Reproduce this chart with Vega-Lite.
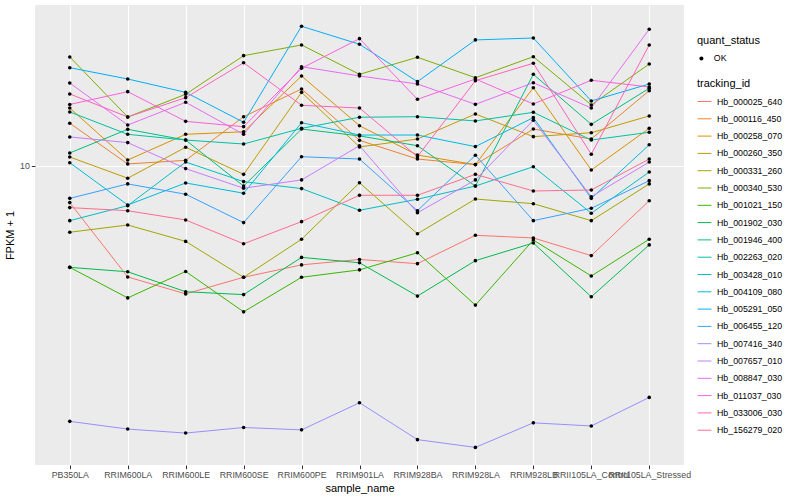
{
  "$schema": "https://vega.github.io/schema/vega-lite/v6.json",
  "width": 649,
  "height": 460,
  "autosize": {"type": "none"},
  "padding": {"left": 35, "top": 5, "right": 116, "bottom": 35},
  "background": "white",
  "config": {
    "view": {"stroke": null, "fill": "#EBEBEB"},
    "font": "Liberation Sans",
    "legend": {"padding": 0}
  },
  "datasets": {
    "expr": [
      {"sample":"PB350LA","id":"Hb_000025_640","fpkm":8.10,"status":"OK"},
      {"sample":"RRIM600LA","id":"Hb_000025_640","fpkm":5.28,"status":"OK"},
      {"sample":"RRIM600LE","id":"Hb_000025_640","fpkm":4.79,"status":"OK"},
      {"sample":"RRIM600SE","id":"Hb_000025_640","fpkm":5.27,"status":"OK"},
      {"sample":"RRIM600PE","id":"Hb_000025_640","fpkm":5.66,"status":"OK"},
      {"sample":"RRIM901LA","id":"Hb_000025_640","fpkm":5.84,"status":"OK"},
      {"sample":"RRIM928BA","id":"Hb_000025_640","fpkm":5.70,"status":"OK"},
      {"sample":"RRIM928LA","id":"Hb_000025_640","fpkm":6.71,"status":"OK"},
      {"sample":"RRIM928LB","id":"Hb_000025_640","fpkm":6.61,"status":"OK"},
      {"sample":"RRII105LA_Control","id":"Hb_000025_640","fpkm":5.97,"status":"OK"},
      {"sample":"RRII105LA_Stressed","id":"Hb_000025_640","fpkm":8.19,"status":"OK"},

      {"sample":"PB350LA","id":"Hb_000116_450","fpkm":12.79,"status":"OK"},
      {"sample":"RRIM600LA","id":"Hb_000116_450","fpkm":10.12,"status":"OK"},
      {"sample":"RRIM600LE","id":"Hb_000116_450","fpkm":10.33,"status":"OK"},
      {"sample":"RRIM600SE","id":"Hb_000116_450","fpkm":13.28,"status":"OK"},
      {"sample":"RRIM600PE","id":"Hb_000116_450","fpkm":15.58,"status":"OK"},
      {"sample":"RRIM901LA","id":"Hb_000116_450","fpkm":11.59,"status":"OK"},
      {"sample":"RRIM928BA","id":"Hb_000116_450","fpkm":10.41,"status":"OK"},
      {"sample":"RRIM928LA","id":"Hb_000116_450","fpkm":10.08,"status":"OK"},
      {"sample":"RRIM928LB","id":"Hb_000116_450","fpkm":12.37,"status":"OK"},
      {"sample":"RRII105LA_Control","id":"Hb_000116_450","fpkm":11.68,"status":"OK"},
      {"sample":"RRII105LA_Stressed","id":"Hb_000116_450","fpkm":15.43,"status":"OK"},

      {"sample":"PB350LA","id":"Hb_000258_070","fpkm":13.96,"status":"OK"},
      {"sample":"RRIM600LA","id":"Hb_000258_070","fpkm":10.35,"status":"OK"},
      {"sample":"RRIM600LE","id":"Hb_000258_070","fpkm":12.00,"status":"OK"},
      {"sample":"RRIM600SE","id":"Hb_000258_070","fpkm":12.18,"status":"OK"},
      {"sample":"RRIM600PE","id":"Hb_000258_070","fpkm":16.79,"status":"OK"},
      {"sample":"RRIM901LA","id":"Hb_000258_070","fpkm":12.61,"status":"OK"},
      {"sample":"RRIM928BA","id":"Hb_000258_070","fpkm":10.65,"status":"OK"},
      {"sample":"RRIM928LA","id":"Hb_000258_070","fpkm":10.08,"status":"OK"},
      {"sample":"RRIM928LB","id":"Hb_000258_070","fpkm":15.69,"status":"OK"},
      {"sample":"RRII105LA_Control","id":"Hb_000258_070","fpkm":9.77,"status":"OK"},
      {"sample":"RRII105LA_Stressed","id":"Hb_000258_070","fpkm":12.42,"status":"OK"},

      {"sample":"PB350LA","id":"Hb_000260_350","fpkm":10.53,"status":"OK"},
      {"sample":"RRIM600LA","id":"Hb_000260_350","fpkm":9.32,"status":"OK"},
      {"sample":"RRIM600LE","id":"Hb_000260_350","fpkm":11.14,"status":"OK"},
      {"sample":"RRIM600SE","id":"Hb_000260_350","fpkm":9.53,"status":"OK"},
      {"sample":"RRIM600PE","id":"Hb_000260_350","fpkm":15.28,"status":"OK"},
      {"sample":"RRIM901LA","id":"Hb_000260_350","fpkm":11.16,"status":"OK"},
      {"sample":"RRIM928BA","id":"Hb_000260_350","fpkm":11.68,"status":"OK"},
      {"sample":"RRIM928LA","id":"Hb_000260_350","fpkm":13.49,"status":"OK"},
      {"sample":"RRIM928LB","id":"Hb_000260_350","fpkm":11.84,"status":"OK"},
      {"sample":"RRII105LA_Control","id":"Hb_000260_350","fpkm":12.11,"status":"OK"},
      {"sample":"RRII105LA_Stressed","id":"Hb_000260_350","fpkm":13.34,"status":"OK"},

      {"sample":"PB350LA","id":"Hb_000331_260","fpkm":6.83,"status":"OK"},
      {"sample":"RRIM600LA","id":"Hb_000331_260","fpkm":7.12,"status":"OK"},
      {"sample":"RRIM600LE","id":"Hb_000331_260","fpkm":6.48,"status":"OK"},
      {"sample":"RRIM600SE","id":"Hb_000331_260","fpkm":5.27,"status":"OK"},
      {"sample":"RRIM600PE","id":"Hb_000331_260","fpkm":6.56,"status":"OK"},
      {"sample":"RRIM901LA","id":"Hb_000331_260","fpkm":9.08,"status":"OK"},
      {"sample":"RRIM928BA","id":"Hb_000331_260","fpkm":6.77,"status":"OK"},
      {"sample":"RRIM928LA","id":"Hb_000331_260","fpkm":8.27,"status":"OK"},
      {"sample":"RRIM928LB","id":"Hb_000331_260","fpkm":8.05,"status":"OK"},
      {"sample":"RRII105LA_Control","id":"Hb_000331_260","fpkm":7.30,"status":"OK"},
      {"sample":"RRII105LA_Stressed","id":"Hb_000331_260","fpkm":9.02,"status":"OK"},

      {"sample":"PB350LA","id":"Hb_000340_530","fpkm":18.73,"status":"OK"},
      {"sample":"RRIM600LA","id":"Hb_000340_530","fpkm":13.26,"status":"OK"},
      {"sample":"RRIM600LE","id":"Hb_000340_530","fpkm":15.11,"status":"OK"},
      {"sample":"RRIM600SE","id":"Hb_000340_530","fpkm":18.87,"status":"OK"},
      {"sample":"RRIM600PE","id":"Hb_000340_530","fpkm":20.07,"status":"OK"},
      {"sample":"RRIM901LA","id":"Hb_000340_530","fpkm":16.95,"status":"OK"},
      {"sample":"RRIM928BA","id":"Hb_000340_530","fpkm":18.70,"status":"OK"},
      {"sample":"RRIM928LA","id":"Hb_000340_530","fpkm":16.62,"status":"OK"},
      {"sample":"RRIM928LB","id":"Hb_000340_530","fpkm":18.76,"status":"OK"},
      {"sample":"RRII105LA_Control","id":"Hb_000340_530","fpkm":14.21,"status":"OK"},
      {"sample":"RRII105LA_Stressed","id":"Hb_000340_530","fpkm":17.99,"status":"OK"},

      {"sample":"PB350LA","id":"Hb_001021_150","fpkm":5.58,"status":"OK"},
      {"sample":"RRIM600LA","id":"Hb_001021_150","fpkm":4.68,"status":"OK"},
      {"sample":"RRIM600LE","id":"Hb_001021_150","fpkm":5.45,"status":"OK"},
      {"sample":"RRIM600SE","id":"Hb_001021_150","fpkm":4.32,"status":"OK"},
      {"sample":"RRIM600PE","id":"Hb_001021_150","fpkm":5.27,"status":"OK"},
      {"sample":"RRIM901LA","id":"Hb_001021_150","fpkm":5.50,"status":"OK"},
      {"sample":"RRIM928BA","id":"Hb_001021_150","fpkm":6.07,"status":"OK"},
      {"sample":"RRIM928LA","id":"Hb_001021_150","fpkm":4.49,"status":"OK"},
      {"sample":"RRIM928LB","id":"Hb_001021_150","fpkm":6.53,"status":"OK"},
      {"sample":"RRII105LA_Control","id":"Hb_001021_150","fpkm":5.31,"status":"OK"},
      {"sample":"RRII105LA_Stressed","id":"Hb_001021_150","fpkm":6.56,"status":"OK"},

      {"sample":"PB350LA","id":"Hb_001902_030","fpkm":5.58,"status":"OK"},
      {"sample":"RRIM600LA","id":"Hb_001902_030","fpkm":5.44,"status":"OK"},
      {"sample":"RRIM600LE","id":"Hb_001902_030","fpkm":4.85,"status":"OK"},
      {"sample":"RRIM600SE","id":"Hb_001902_030","fpkm":4.77,"status":"OK"},
      {"sample":"RRIM600PE","id":"Hb_001902_030","fpkm":5.91,"status":"OK"},
      {"sample":"RRIM901LA","id":"Hb_001902_030","fpkm":5.73,"status":"OK"},
      {"sample":"RRIM928BA","id":"Hb_001902_030","fpkm":4.73,"status":"OK"},
      {"sample":"RRIM928LA","id":"Hb_001902_030","fpkm":5.80,"status":"OK"},
      {"sample":"RRIM928LB","id":"Hb_001902_030","fpkm":6.42,"status":"OK"},
      {"sample":"RRII105LA_Control","id":"Hb_001902_030","fpkm":4.71,"status":"OK"},
      {"sample":"RRII105LA_Stressed","id":"Hb_001902_030","fpkm":6.35,"status":"OK"},

      {"sample":"PB350LA","id":"Hb_001946_400","fpkm":10.78,"status":"OK"},
      {"sample":"RRIM600LA","id":"Hb_001946_400","fpkm":12.35,"status":"OK"},
      {"sample":"RRIM600LE","id":"Hb_001946_400","fpkm":11.61,"status":"OK"},
      {"sample":"RRIM600SE","id":"Hb_001946_400","fpkm":8.91,"status":"OK"},
      {"sample":"RRIM600PE","id":"Hb_001946_400","fpkm":12.37,"status":"OK"},
      {"sample":"RRIM901LA","id":"Hb_001946_400","fpkm":11.89,"status":"OK"},
      {"sample":"RRIM928BA","id":"Hb_001946_400","fpkm":11.24,"status":"OK"},
      {"sample":"RRIM928LA","id":"Hb_001946_400","fpkm":8.91,"status":"OK"},
      {"sample":"RRIM928LB","id":"Hb_001946_400","fpkm":16.95,"status":"OK"},
      {"sample":"RRII105LA_Control","id":"Hb_001946_400","fpkm":12.71,"status":"OK"},
      {"sample":"RRII105LA_Stressed","id":"Hb_001946_400","fpkm":15.64,"status":"OK"},

      {"sample":"PB350LA","id":"Hb_002263_020","fpkm":13.65,"status":"OK"},
      {"sample":"RRIM600LA","id":"Hb_002263_020","fpkm":12.00,"status":"OK"},
      {"sample":"RRIM600LE","id":"Hb_002263_020","fpkm":11.61,"status":"OK"},
      {"sample":"RRIM600SE","id":"Hb_002263_020","fpkm":11.35,"status":"OK"},
      {"sample":"RRIM600PE","id":"Hb_002263_020","fpkm":12.42,"status":"OK"},
      {"sample":"RRIM901LA","id":"Hb_002263_020","fpkm":13.24,"status":"OK"},
      {"sample":"RRIM928BA","id":"Hb_002263_020","fpkm":13.28,"status":"OK"},
      {"sample":"RRIM928LA","id":"Hb_002263_020","fpkm":12.96,"status":"OK"},
      {"sample":"RRIM928LB","id":"Hb_002263_020","fpkm":13.62,"status":"OK"},
      {"sample":"RRII105LA_Control","id":"Hb_002263_020","fpkm":11.61,"status":"OK"},
      {"sample":"RRII105LA_Stressed","id":"Hb_002263_020","fpkm":12.14,"status":"OK"},

      {"sample":"PB350LA","id":"Hb_003428_010","fpkm":7.30,"status":"OK"},
      {"sample":"RRIM600LA","id":"Hb_003428_010","fpkm":7.96,"status":"OK"},
      {"sample":"RRIM600LE","id":"Hb_003428_010","fpkm":10.23,"status":"OK"},
      {"sample":"RRIM600SE","id":"Hb_003428_010","fpkm":9.14,"status":"OK"},
      {"sample":"RRIM600PE","id":"Hb_003428_010","fpkm":8.78,"status":"OK"},
      {"sample":"RRIM901LA","id":"Hb_003428_010","fpkm":7.75,"status":"OK"},
      {"sample":"RRIM928BA","id":"Hb_003428_010","fpkm":8.26,"status":"OK"},
      {"sample":"RRIM928LA","id":"Hb_003428_010","fpkm":8.91,"status":"OK"},
      {"sample":"RRIM928LB","id":"Hb_003428_010","fpkm":9.96,"status":"OK"},
      {"sample":"RRII105LA_Control","id":"Hb_003428_010","fpkm":7.62,"status":"OK"},
      {"sample":"RRII105LA_Stressed","id":"Hb_003428_010","fpkm":9.66,"status":"OK"},

      {"sample":"PB350LA","id":"Hb_004109_080","fpkm":10.19,"status":"OK"},
      {"sample":"RRIM600LA","id":"Hb_004109_080","fpkm":7.99,"status":"OK"},
      {"sample":"RRIM600LE","id":"Hb_004109_080","fpkm":9.07,"status":"OK"},
      {"sample":"RRIM600SE","id":"Hb_004109_080","fpkm":8.55,"status":"OK"},
      {"sample":"RRIM600PE","id":"Hb_004109_080","fpkm":12.83,"status":"OK"},
      {"sample":"RRIM901LA","id":"Hb_004109_080","fpkm":11.95,"status":"OK"},
      {"sample":"RRIM928BA","id":"Hb_004109_080","fpkm":11.95,"status":"OK"},
      {"sample":"RRIM928LA","id":"Hb_004109_080","fpkm":11.18,"status":"OK"},
      {"sample":"RRIM928LB","id":"Hb_004109_080","fpkm":13.21,"status":"OK"},
      {"sample":"RRII105LA_Control","id":"Hb_004109_080","fpkm":8.30,"status":"OK"},
      {"sample":"RRII105LA_Stressed","id":"Hb_004109_080","fpkm":11.30,"status":"OK"},

      {"sample":"PB350LA","id":"Hb_005291_050","fpkm":17.61,"status":"OK"},
      {"sample":"RRIM600LA","id":"Hb_005291_050","fpkm":16.50,"status":"OK"},
      {"sample":"RRIM600LE","id":"Hb_005291_050","fpkm":15.28,"status":"OK"},
      {"sample":"RRIM600SE","id":"Hb_005291_050","fpkm":12.86,"status":"OK"},
      {"sample":"RRIM600PE","id":"Hb_005291_050","fpkm":22.35,"status":"OK"},
      {"sample":"RRIM901LA","id":"Hb_005291_050","fpkm":20.15,"status":"OK"},
      {"sample":"RRIM928BA","id":"Hb_005291_050","fpkm":16.25,"status":"OK"},
      {"sample":"RRIM928LA","id":"Hb_005291_050","fpkm":20.66,"status":"OK"},
      {"sample":"RRIM928LB","id":"Hb_005291_050","fpkm":20.89,"status":"OK"},
      {"sample":"RRII105LA_Control","id":"Hb_005291_050","fpkm":14.54,"status":"OK"},
      {"sample":"RRII105LA_Stressed","id":"Hb_005291_050","fpkm":16.03,"status":"OK"},

      {"sample":"PB350LA","id":"Hb_006455_120","fpkm":8.30,"status":"OK"},
      {"sample":"RRIM600LA","id":"Hb_006455_120","fpkm":9.02,"status":"OK"},
      {"sample":"RRIM600LE","id":"Hb_006455_120","fpkm":8.50,"status":"OK"},
      {"sample":"RRIM600SE","id":"Hb_006455_120","fpkm":7.22,"status":"OK"},
      {"sample":"RRIM600PE","id":"Hb_006455_120","fpkm":10.55,"status":"OK"},
      {"sample":"RRIM901LA","id":"Hb_006455_120","fpkm":10.41,"status":"OK"},
      {"sample":"RRIM928BA","id":"Hb_006455_120","fpkm":7.73,"status":"OK"},
      {"sample":"RRIM928LA","id":"Hb_006455_120","fpkm":10.64,"status":"OK"},
      {"sample":"RRIM928LB","id":"Hb_006455_120","fpkm":7.30,"status":"OK"},
      {"sample":"RRII105LA_Control","id":"Hb_006455_120","fpkm":7.84,"status":"OK"},
      {"sample":"RRII105LA_Stressed","id":"Hb_006455_120","fpkm":9.19,"status":"OK"},

      {"sample":"PB350LA","id":"Hb_007416_340","fpkm":2.30,"status":"OK"},
      {"sample":"RRIM600LA","id":"Hb_007416_340","fpkm":2.20,"status":"OK"},
      {"sample":"RRIM600LE","id":"Hb_007416_340","fpkm":2.15,"status":"OK"},
      {"sample":"RRIM600SE","id":"Hb_007416_340","fpkm":2.22,"status":"OK"},
      {"sample":"RRIM600PE","id":"Hb_007416_340","fpkm":2.19,"status":"OK"},
      {"sample":"RRIM901LA","id":"Hb_007416_340","fpkm":2.56,"status":"OK"},
      {"sample":"RRIM928BA","id":"Hb_007416_340","fpkm":2.07,"status":"OK"},
      {"sample":"RRIM928LA","id":"Hb_007416_340","fpkm":1.98,"status":"OK"},
      {"sample":"RRIM928LB","id":"Hb_007416_340","fpkm":2.28,"status":"OK"},
      {"sample":"RRII105LA_Control","id":"Hb_007416_340","fpkm":2.24,"status":"OK"},
      {"sample":"RRII105LA_Stressed","id":"Hb_007416_340","fpkm":2.64,"status":"OK"},

      {"sample":"PB350LA","id":"Hb_007657_010","fpkm":11.82,"status":"OK"},
      {"sample":"RRIM600LA","id":"Hb_007657_010","fpkm":11.44,"status":"OK"},
      {"sample":"RRIM600LE","id":"Hb_007657_010","fpkm":9.85,"status":"OK"},
      {"sample":"RRIM600SE","id":"Hb_007657_010","fpkm":8.80,"status":"OK"},
      {"sample":"RRIM600PE","id":"Hb_007657_010","fpkm":9.23,"status":"OK"},
      {"sample":"RRIM901LA","id":"Hb_007657_010","fpkm":11.24,"status":"OK"},
      {"sample":"RRIM928BA","id":"Hb_007657_010","fpkm":7.64,"status":"OK"},
      {"sample":"RRIM928LA","id":"Hb_007657_010","fpkm":9.23,"status":"OK"},
      {"sample":"RRIM928LB","id":"Hb_007657_010","fpkm":13.01,"status":"OK"},
      {"sample":"RRII105LA_Control","id":"Hb_007657_010","fpkm":8.38,"status":"OK"},
      {"sample":"RRII105LA_Stressed","id":"Hb_007657_010","fpkm":10.23,"status":"OK"},

      {"sample":"PB350LA","id":"Hb_008847_030","fpkm":16.12,"status":"OK"},
      {"sample":"RRIM600LA","id":"Hb_008847_030","fpkm":12.66,"status":"OK"},
      {"sample":"RRIM600LE","id":"Hb_008847_030","fpkm":14.43,"status":"OK"},
      {"sample":"RRIM600SE","id":"Hb_008847_030","fpkm":12.00,"status":"OK"},
      {"sample":"RRIM600PE","id":"Hb_008847_030","fpkm":17.71,"status":"OK"},
      {"sample":"RRIM901LA","id":"Hb_008847_030","fpkm":16.79,"status":"OK"},
      {"sample":"RRIM928BA","id":"Hb_008847_030","fpkm":16.03,"status":"OK"},
      {"sample":"RRIM928LA","id":"Hb_008847_030","fpkm":14.26,"status":"OK"},
      {"sample":"RRIM928LB","id":"Hb_008847_030","fpkm":16.15,"status":"OK"},
      {"sample":"RRII105LA_Control","id":"Hb_008847_030","fpkm":13.96,"status":"OK"},
      {"sample":"RRII105LA_Stressed","id":"Hb_008847_030","fpkm":21.97,"status":"OK"},

      {"sample":"PB350LA","id":"Hb_011037_030","fpkm":14.25,"status":"OK"},
      {"sample":"RRIM600LA","id":"Hb_011037_030","fpkm":15.34,"status":"OK"},
      {"sample":"RRIM600LE","id":"Hb_011037_030","fpkm":12.93,"status":"OK"},
      {"sample":"RRIM600SE","id":"Hb_011037_030","fpkm":12.54,"status":"OK"},
      {"sample":"RRIM600PE","id":"Hb_011037_030","fpkm":17.55,"status":"OK"},
      {"sample":"RRIM901LA","id":"Hb_011037_030","fpkm":20.81,"status":"OK"},
      {"sample":"RRIM928BA","id":"Hb_011037_030","fpkm":14.68,"status":"OK"},
      {"sample":"RRIM928LA","id":"Hb_011037_030","fpkm":16.50,"status":"OK"},
      {"sample":"RRIM928LB","id":"Hb_011037_030","fpkm":14.29,"status":"OK"},
      {"sample":"RRII105LA_Control","id":"Hb_011037_030","fpkm":16.38,"status":"OK"},
      {"sample":"RRII105LA_Stressed","id":"Hb_011037_030","fpkm":15.76,"status":"OK"},

      {"sample":"PB350LA","id":"Hb_033006_030","fpkm":15.14,"status":"OK"},
      {"sample":"RRIM600LA","id":"Hb_033006_030","fpkm":13.26,"status":"OK"},
      {"sample":"RRIM600LE","id":"Hb_033006_030","fpkm":14.82,"status":"OK"},
      {"sample":"RRIM600SE","id":"Hb_033006_030","fpkm":18.12,"status":"OK"},
      {"sample":"RRIM600PE","id":"Hb_033006_030","fpkm":14.18,"status":"OK"},
      {"sample":"RRIM901LA","id":"Hb_033006_030","fpkm":13.96,"status":"OK"},
      {"sample":"RRIM928BA","id":"Hb_033006_030","fpkm":10.55,"status":"OK"},
      {"sample":"RRIM928LA","id":"Hb_033006_030","fpkm":16.34,"status":"OK"},
      {"sample":"RRIM928LB","id":"Hb_033006_030","fpkm":18.06,"status":"OK"},
      {"sample":"RRII105LA_Control","id":"Hb_033006_030","fpkm":10.70,"status":"OK"},
      {"sample":"RRII105LA_Stressed","id":"Hb_033006_030","fpkm":20.07,"status":"OK"},

      {"sample":"PB350LA","id":"Hb_156279_020","fpkm":7.87,"status":"OK"},
      {"sample":"RRIM600LA","id":"Hb_156279_020","fpkm":7.73,"status":"OK"},
      {"sample":"RRIM600LE","id":"Hb_156279_020","fpkm":7.33,"status":"OK"},
      {"sample":"RRIM600SE","id":"Hb_156279_020","fpkm":6.39,"status":"OK"},
      {"sample":"RRIM600PE","id":"Hb_156279_020","fpkm":7.26,"status":"OK"},
      {"sample":"RRIM901LA","id":"Hb_156279_020","fpkm":8.45,"status":"OK"},
      {"sample":"RRIM928BA","id":"Hb_156279_020","fpkm":8.45,"status":"OK"},
      {"sample":"RRIM928LA","id":"Hb_156279_020","fpkm":9.53,"status":"OK"},
      {"sample":"RRIM928LB","id":"Hb_156279_020","fpkm":8.66,"status":"OK"},
      {"sample":"RRII105LA_Control","id":"Hb_156279_020","fpkm":8.71,"status":"OK"},
      {"sample":"RRII105LA_Stressed","id":"Hb_156279_020","fpkm":10.41,"status":"OK"}
    ]
  },
  "data": {"name": "expr"},
  "encoding": {
    "x": {
      "field": "sample",
      "type": "nominal",
      "sort": ["PB350LA","RRIM600LA","RRIM600LE","RRIM600SE","RRIM600PE","RRIM901LA","RRIM928BA","RRIM928LA","RRIM928LB","RRII105LA_Control","RRII105LA_Stressed"],
      "scale": {"type": "point", "padding": 0.6},
      "axis": {
        "title": "sample_name",
        "labelAngle": 0,
        "labelOverlap": false,
        "labelBound": false,
        "grid": true,
        "gridColor": "white",
        "gridWidth": 1.1,
        "domain": false,
        "tickColor": "#333333",
        "tickSize": 3.7,
        "tickWidth": 1,
        "labelColor": "#4D4D4D",
        "labelFontSize": 8.8,
        "labelPadding": 2,
        "titleFontSize": 11,
        "titleFontWeight": "normal",
        "titleColor": "black",
        "titlePadding": 3
      }
    },
    "y": {
      "field": "fpkm",
      "type": "quantitative",
      "scale": {"type": "log", "domain": [1.789, 25.26], "nice": false, "zero": false},
      "axis": {
        "title": "FPKM + 1",
        "values": [10],
        "format": "~g",
        "grid": true,
        "gridColor": "white",
        "gridWidth": 1.1,
        "domain": false,
        "tickColor": "#333333",
        "tickSize": 3.7,
        "labelColor": "#4D4D4D",
        "labelFontSize": 8.8,
        "labelPadding": 2,
        "titleFontSize": 11,
        "titleFontWeight": "normal",
        "titleColor": "black",
        "titlePadding": 4
      }
    }
  },
  "layer": [
    {
      "mark": {"type": "line", "strokeWidth": 1},
      "encoding": {
        "color": {
          "field": "id",
          "type": "nominal",
          "scale": {
            "domain": ["Hb_000025_640","Hb_000116_450","Hb_000258_070","Hb_000260_350","Hb_000331_260","Hb_000340_530","Hb_001021_150","Hb_001902_030","Hb_001946_400","Hb_002263_020","Hb_003428_010","Hb_004109_080","Hb_005291_050","Hb_006455_120","Hb_007416_340","Hb_007657_010","Hb_008847_030","Hb_011037_030","Hb_033006_030","Hb_156279_020"],
            "range": ["#F8766D","#EA8331","#D89000","#C09B00","#A3A500","#7CAE00","#39B600","#00BB4E","#00BF7D","#00C1A3","#00BFC4","#00BAE0","#00B0F6","#35A2FF","#9590FF","#C77CFF","#E76BF3","#FA62DB","#FF62BC","#FF6C91"]
          },
          "legend": {
            "title": "tracking_id",
            "orient": "none",
            "legendX": 662,
            "legendY": 73,
            "symbolType": "stroke",
            "symbolStrokeWidth": 1,
            "symbolSize": 190,
            "rowPadding": 4.3,
            "labelOffset": 5,
            "labelFontSize": 8.8,
            "labelColor": "black",
            "titleFontSize": 11,
            "titleFontWeight": "normal",
            "titleColor": "black",
            "titlePadding": 5
          }
        }
      }
    },
    {
      "mark": {"type": "point", "filled": true, "color": "black", "size": 13, "opacity": 1},
      "encoding": {
        "shape": {
          "field": "status",
          "type": "nominal",
          "scale": {"range": ["circle"]},
          "legend": {
            "title": "quant_status",
            "orient": "none",
            "legendX": 662,
            "legendY": 30,
            "symbolFillColor": "black",
            "symbolStrokeColor": "black",
            "symbolSize": 16,
            "labelOffset": 8,
            "labelFontSize": 8.8,
            "labelColor": "black",
            "titleFontSize": 11,
            "titleFontWeight": "normal",
            "titleColor": "black",
            "titlePadding": 8
          }
        }
      }
    }
  ]
}
